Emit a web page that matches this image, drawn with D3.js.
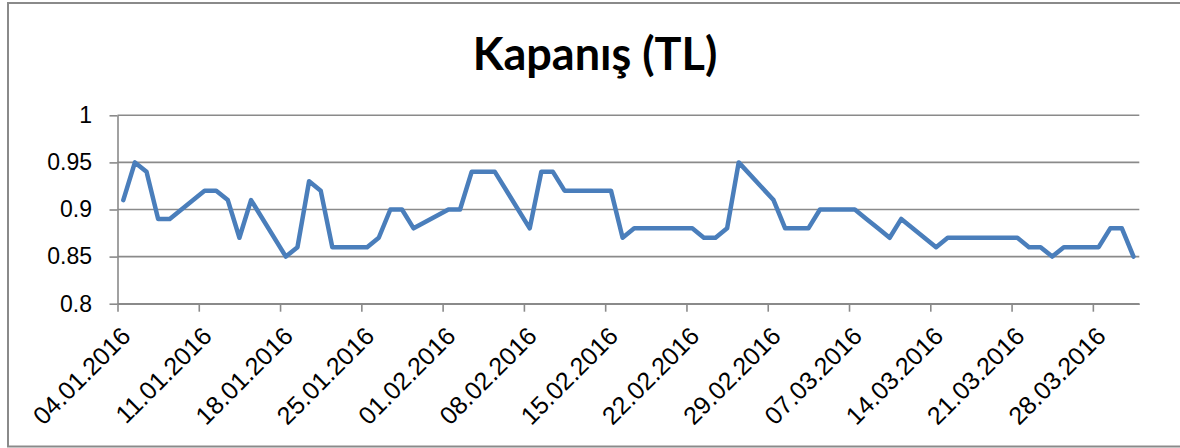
<!DOCTYPE html>
<html>
<head>
<meta charset="utf-8">
<script src="https://cdn.jsdelivr.net/npm/d3@7"></script>
<style>
  body { margin: 0; background: #fff; }
  svg { display: block; font-family: Lato, "Open Sans", sans-serif; }
  .grid line { stroke: #8a8a8a; stroke-width: 1.6; }
  .axis path, .axis line { stroke: #8a8a8a; stroke-width: 1.6; }
  .axis text { fill: #000; font-size: 23px; }
  .xaxis text { font-size: 25px; }
</style>
</head>
<body>
<div id="container"></div>
<script>
// trading days (dd.mm.yyyy) and closing price in TL
const dates = [
  "04.01.2016","05.01.2016","06.01.2016","07.01.2016","08.01.2016",
  "11.01.2016","12.01.2016","13.01.2016","14.01.2016","15.01.2016",
  "18.01.2016","19.01.2016","20.01.2016","21.01.2016","22.01.2016",
  "25.01.2016","26.01.2016","27.01.2016","28.01.2016","29.01.2016",
  "01.02.2016","02.02.2016","03.02.2016","04.02.2016","05.02.2016",
  "08.02.2016","09.02.2016","10.02.2016","11.02.2016","12.02.2016",
  "15.02.2016","16.02.2016","17.02.2016","18.02.2016","19.02.2016",
  "22.02.2016","23.02.2016","24.02.2016","25.02.2016","26.02.2016",
  "29.02.2016","01.03.2016","02.03.2016","03.03.2016","04.03.2016",
  "07.03.2016","08.03.2016","09.03.2016","10.03.2016","11.03.2016",
  "14.03.2016","15.03.2016","16.03.2016","17.03.2016","18.03.2016",
  "21.03.2016","22.03.2016","23.03.2016","24.03.2016","25.03.2016",
  "28.03.2016","29.03.2016","30.03.2016","31.03.2016"
];
const closes = [
  0.91, 0.95, 0.94, 0.89, 0.89,
  0.92, 0.92, 0.91, 0.87, 0.91,
  0.85, 0.86, 0.93, 0.92, 0.86,
  0.86, 0.87, 0.90, 0.90, 0.88,
  0.90, 0.90, 0.94, 0.94, 0.94,
  0.88, 0.94, 0.94, 0.92, 0.92,
  0.92, 0.87, 0.88, 0.88, 0.88,
  0.88, 0.87, 0.87, 0.88, 0.95,
  0.91, 0.88, 0.88, 0.88, 0.90,
  0.90, 0.89, 0.88, 0.87, 0.89,
  0.86, 0.87, 0.87, 0.87, 0.87,
  0.87, 0.86, 0.86, 0.85, 0.86,
  0.86, 0.88, 0.88, 0.85
];
const xTickLabels = [
  "04.01.2016","11.01.2016","18.01.2016","25.01.2016","01.02.2016",
  "08.02.2016","15.02.2016","22.02.2016","29.02.2016","07.03.2016",
  "14.03.2016","21.03.2016","28.03.2016"
];
const yTicks = [0.8, 0.85, 0.9, 0.95, 1];
const xStart = "04.01.2016", xEnd = "01.04.2016";
const title = "Kapanış (TL)";

const width = 1180, height = 448;
const parse = d3.timeParse("%d.%m.%Y");
const margin = {left: 117.5, right: 1139.3, top: 115.3, bottom: 303.7};

const data = dates.map((d, i) => ({date: parse(d), value: closes[i]}));

const x = d3.scaleTime()
  .domain([parse(xStart), parse(xEnd)])
  .range([margin.left, margin.right]);
const y = d3.scaleLinear()
  .domain([0.8, 1])
  .range([margin.bottom, margin.top]);

const svg = d3.select("#container").append("svg")
  .attr("width", width)
  .attr("height", height);

// chart frame (runs past the right edge in the original)
svg.append("rect")
  .attr("x", 8).attr("y", 3)
  .attr("width", 1176).attr("height", 443.5)
  .attr("fill", "none")
  .attr("stroke", "#8a8a8a")
  .attr("stroke-width", 2);

svg.append("text")
  .attr("x", 595).attr("y", 70)
  .attr("text-anchor", "middle")
  .style("font-size", "45px")
  .style("font-weight", "bold")
  .text(title);

svg.append("g")
  .attr("class", "grid")
  .selectAll("line")
  .data(yTicks)
  .join("line")
  .attr("x1", margin.left).attr("x2", margin.right)
  .attr("y1", d => y(d)).attr("y2", d => y(d));

const yAxis = svg.append("g")
  .attr("class", "axis")
  .attr("transform", `translate(${margin.left},0)`)
  .call(d3.axisLeft(y).tickValues(yTicks).tickSize(8).tickSizeOuter(0)
    .tickFormat(d => String(+d.toFixed(2))));
yAxis.selectAll("text").attr("x", -25.5);

const xAxis = svg.append("g")
  .attr("class", "axis xaxis")
  .attr("transform", `translate(0,${margin.bottom})`)
  .call(d3.axisBottom(x).tickValues(xTickLabels.map(parse)).tickSize(8).tickSizeOuter(0)
    .tickFormat(d3.timeFormat("%d.%m.%Y")));
xAxis.selectAll("text")
  .attr("text-anchor", "end")
  .attr("dy", null)
  .attr("y", null)
  .attr("transform", "translate(14,34) rotate(-45)");

// Excel date axis puts each point in the middle of its day
const line = d3.line()
  .x(d => x(d3.timeHour.offset(d.date, 12)))
  .y(d => y(d.value));

svg.append("path")
  .datum(data)
  .attr("fill", "none")
  .attr("stroke", "#4a7ebb")
  .attr("stroke-width", 4.5)
  .attr("stroke-linejoin", "round")
  .attr("stroke-linecap", "round")
  .attr("d", line);
</script>
</body>
</html>
